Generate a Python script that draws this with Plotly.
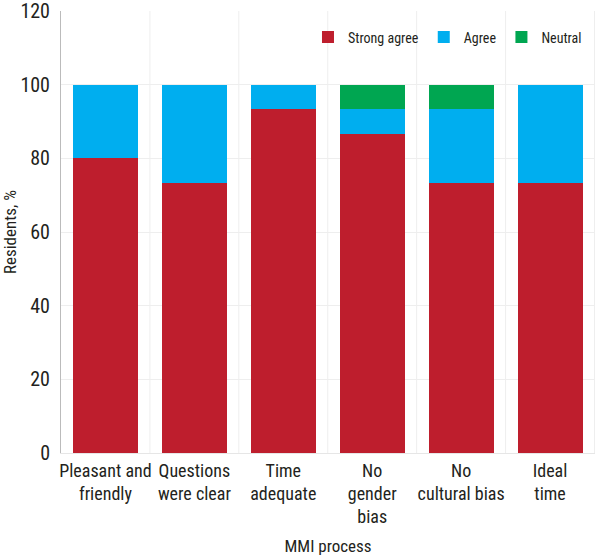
import plotly.graph_objects as go

categories = ["Pleasant and<br>friendly", "Questions<br>were clear", "Time<br>adequate",
              "No<br>gender<br>bias", "No<br>cultural bias", "Ideal<br>time"]
strong_agree = [80.0, 73.3, 93.3, 86.7, 73.3, 73.3]
agree = [20.0, 26.7, 6.7, 6.7, 20.0, 26.7]
neutral = [0, 0, 0, 6.6, 6.7, 0]
y_ticks = [0, 20, 40, 60, 80, 100, 120]

FONT = "Liberation Sans Narrow, Roboto Condensed, Open Sans, sans-serif"

fig = go.Figure()
fig.add_bar(x=categories, y=strong_agree, name="Strong agree", marker_color="#BE1E2D",
            marker_line_width=0)
fig.add_bar(x=categories, y=agree, name="Agree", marker_color="#00AEEF", marker_line_width=0)
fig.add_bar(x=categories, y=neutral, name="Neutral", marker_color="#00A651", marker_line_width=0)

shapes = []
for i in range(len(categories)):
    shapes.append(dict(type="line", xref="x", yref="paper", x0=i + 0.5, x1=i + 0.5,
                       y0=0, y1=1, line=dict(color="#EEEEEE", width=1), layer="below"))

fig.update_layout(
    barmode="stack",
    bargap=0.27,
    width=600, height=558,
    margin=dict(l=61, r=5, t=11, b=105),
    plot_bgcolor="white", paper_bgcolor="white",
    font=dict(family=FONT, size=18, color="#231F20"),
    shapes=shapes,
    legend=dict(orientation="h", x=0.985, xanchor="right", y=0.94, yanchor="middle",
                font=dict(size=14), bgcolor="rgba(0,0,0,0)", traceorder="normal",
                itemwidth=30),
    xaxis=dict(title=dict(text="MMI process", font=dict(size=17), standoff=13),
               showline=True, linecolor="#E6E6E6", ticks="", tickfont=dict(size=18),
               ticklabelstandoff=1, automargin=False),
    yaxis=dict(title=dict(text="Residents, %", font=dict(size=17), standoff=3),
               range=[0, 120], tickvals=y_ticks, ticktext=[str(v) for v in y_ticks],
               showgrid=True, gridcolor="#EEEEEE", ticklabeloverflow="allow",
               showline=True, linecolor="#BBBBBB", zeroline=False, ticks="",
               tickfont=dict(size=20), ticklabelstandoff=6, automargin=False),
)

fig.write_html("out.html", config={"displayModeBar": False},
               post_script="document.body.style.margin='0';")
